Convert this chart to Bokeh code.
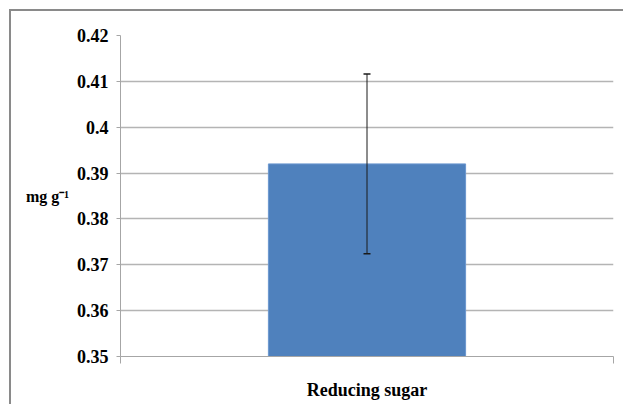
from bokeh.plotting import figure
from bokeh.models import ColumnDataSource, Range1d, FixedTicker, Whisker, TeeHead, Label
from bokeh.embed import file_html
from bokeh.resources import INLINE

categories = ["Reducing sugar"]
values = [0.392]
errors = [0.0196]
y_ticks = [0.35, 0.36, 0.37, 0.38, 0.39, 0.4, 0.41, 0.42]
y_tick_labels = ["0.35", "0.36", "0.37", "0.38", "0.39", "0.4", "0.41", "0.42"]
y_label = "mg g\u207b\u00b9"

FONT = "Liberation Serif"
xs = [i + 0.5 for i in range(len(categories))]
src = ColumnDataSource(dict(
    x=xs,
    top=values,
    upper=[v + e for v, e in zip(values, errors)],
    lower=[v - e for v, e in zip(values, errors)],
))

p = figure(width=614, height=395,
           x_range=Range1d(0, len(categories)),
           y_range=Range1d(y_ticks[0], y_ticks[-1]),
           output_backend="svg", toolbar_location=None,
           min_border_left=109, min_border_right=12,
           min_border_top=24, min_border_bottom=50)
p.styles = {"margin-left": "9px", "margin-top": "9px",
            "border-left": "2px solid #8a8a8a", "border-top": "2px solid #8a8a8a"}
p.outline_line_color = None
p.background_fill_color = "white"
p.border_fill_color = "white"

p.vbar(x="x", top="top", bottom=0, width=0.4, source=src,
       fill_color="#4f81bd", line_color="#6b97cf", line_width=1)

w = Whisker(base="x", upper="upper", lower="lower", source=src, level="overlay",
            line_color="#1a1a1a", line_width=1,
            upper_head=TeeHead(size=7, line_color="#1a1a1a", line_width=1.5),
            lower_head=TeeHead(size=7, line_color="#1a1a1a", line_width=1.5))
p.add_layout(w)

# grid
p.xgrid.visible = False
p.ygrid.ticker = FixedTicker(ticks=y_ticks)
p.ygrid.grid_line_color = "#b4b4b4"
p.ygrid.grid_line_width = 1.3

# y axis
yax = p.yaxis[0]
yax.ticker = FixedTicker(ticks=y_ticks)
yax.major_label_overrides = {t: l for t, l in zip(y_ticks, y_tick_labels)}
yax.major_label_text_font = FONT
yax.major_label_text_font_style = "bold"
yax.major_label_text_font_size = "18px"
yax.major_label_text_color = "black"
yax.major_label_standoff = 8
yax.major_tick_out = 4
yax.major_tick_in = 0
yax.minor_tick_line_color = None
yax.axis_line_color = "#a6a6a6"
yax.major_tick_line_color = "#a6a6a6"

if "axis_label_orientation" in yax.properties():
    yax.axis_label = y_label
    yax.axis_label_orientation = "horizontal"
    yax.axis_label_text_font = FONT
    yax.axis_label_text_font_style = "bold"
    yax.axis_label_text_font_size = "16px"
    yax.axis_label_text_color = "black"
    yax.axis_label_standoff = 5
else:
    p.add_layout(Label(x=20, y=0.3835, x_units="screen", y_units="data", text=y_label,
                       text_font=FONT, text_font_style="bold", text_font_size="16px",
                       text_color="black", text_align="left", text_baseline="alphabetic"))

# x axis
xax = p.xaxis[0]
xax.ticker = FixedTicker(ticks=xs, minor_ticks=[float(i) for i in range(len(categories) + 1)])
xax.major_label_overrides = {x: c for x, c in zip(xs, categories)}
xax.major_label_text_font = FONT
xax.major_label_text_font_style = "bold"
xax.major_label_text_font_size = "18px"
xax.major_label_text_color = "black"
xax.major_tick_out = 0
xax.major_tick_in = 0
xax.major_label_standoff = 16
xax.minor_tick_out = 7
xax.minor_tick_in = 0
xax.minor_tick_line_color = "#a6a6a6"
xax.axis_line_color = "#a6a6a6"

open("out.html", "w").write(file_html(p, INLINE))
